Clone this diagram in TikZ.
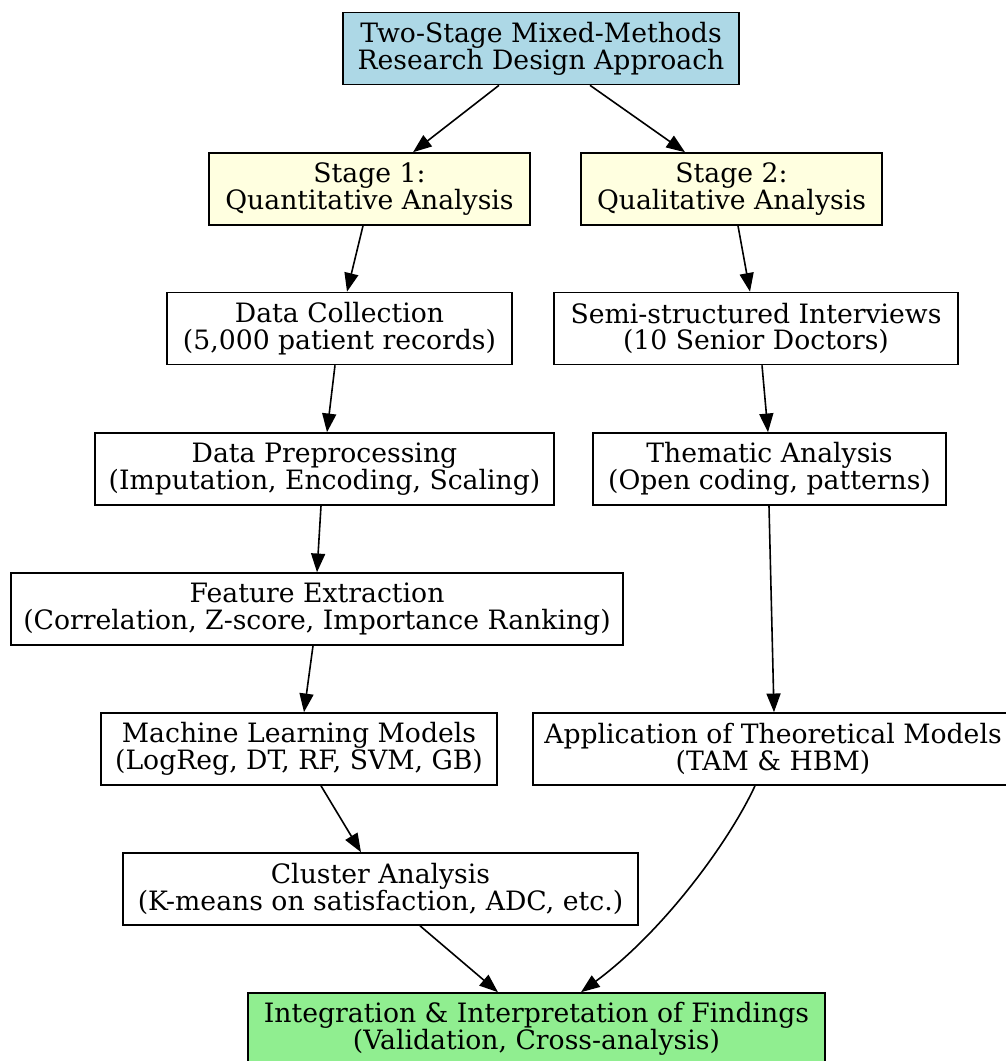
\documentclass[tikz,border=0pt]{standalone}
\usepackage{fontspec}
\setmainfont{DejaVu Serif}
\usetikzlibrary{arrows.meta,calc}
\definecolor{lblue}{HTML}{ADD8E6}
\definecolor{lyellow}{HTML}{FFFFE0}
\definecolor{lgreen}{HTML}{90EE90}
\tikzset{
  box/.style={draw, line width=1.2pt, rectangle, align=center, inner sep=0pt,
    font=\fontsize{20}{20}\selectfont, minimum height=54pt},
  bw/.style={minimum width=#1*0.75pt},
  arr/.style={-{Triangle[length=14pt,width=10.5pt]}, line width=1.2pt}
}
\begin{document}
\begin{tikzpicture}[x=0.75pt,y=-0.75pt]
\useasboundingbox (0,0) rectangle (1006,1061);
\clip (0,0) rectangle (1006,1061);
\fill[white] (0,0) rectangle (1006,1061);

\node[box,bw=396,fill=lblue] (top) at (541,48.5) {Two-Stage Mixed-Methods\\Research Design Approach};
\node[box,bw=321,fill=lyellow] (s1) at (369.5,189) {Stage 1:\\Quantitative Analysis};
\node[box,bw=301,fill=lyellow] (s2) at (731.5,189) {Stage 2:\\Qualitative Analysis};
\node[box,bw=345] (dc) at (339.5,328.5) {Data Collection\\(5,000 patient records)};
\node[box,bw=404] (semi) at (756,328.5) {Semi-structured Interviews\\(10 Senior Doctors)};
\node[box,bw=459] (dp) at (324.5,469) {Data Preprocessing\\(Imputation, Encoding, Scaling)};
\node[box,bw=353] (them) at (769.5,469) {Thematic Analysis\\(Open coding, patterns)};
\node[box,bw=612] (fe) at (317,609) {Feature Extraction\\(Correlation, Z-score, Importance Ranking)};
\node[box,bw=396] (ml) at (299,749) {Machine Learning Models\\(LogReg, DT, RF, SVM, GB)};
\node[box,bw=480] (app) at (773,749) {Application of Theoretical Models\\(TAM \& HBM)};
\node[box,bw=515] (cl) at (380.5,889) {Cluster Analysis\\(K-means on satisfaction, ADC, etc.)};
\node[box,bw=577,fill=lgreen] (int) at (536.5,1029) {Integration \& Interpretation of Findings\\(Validation, Cross-analysis)};

\draw[arr] ($(top.south)+(-42,0)$) -- ($(s1.north)+(43.5,0)$);
\draw[arr] ($(top.south)+(49,0)$) -- ($(s2.north)+(-46.5,0)$);
\draw[arr] ($(s1.south)+(-6.5,0)$) -- ($(dc.north)+(7.5,0)$);
\draw[arr] ($(s2.south)+(6.5,0)$) -- ($(semi.north)+(-6,0)$);
\draw[arr] ($(dc.south)+(-4.5,0)$) -- ($(dp.north)+(2.5,0)$);
\draw[arr] ($(semi.south)+(6,0)$) -- ($(them.north)+(-1.5,0)$);
\draw[arr] ($(dp.south)+(-3.5,0)$) -- ($(fe.north)+(0,0)$);
\draw[arr] ($(them.south)+(-0.5,0)$) -- ($(app.north)+(1,0)$);
\draw[arr] ($(fe.south)+(-4,0)$) -- ($(ml.north)+(5,0)$);
\draw[arr] ($(ml.south)+(22,0)$) -- ($(cl.north)+(-19.5,0)$);
\draw[arr] ($(cl.south)+(39.5,0)$) -- ($(int.north)+(-38.5,0)$);
\draw[arr] ($(app.south)+(-18,0)$) .. controls (730,840) and (665,930) .. ($(int.north)+(44.5,0)$);
\end{tikzpicture}
\end{document}
